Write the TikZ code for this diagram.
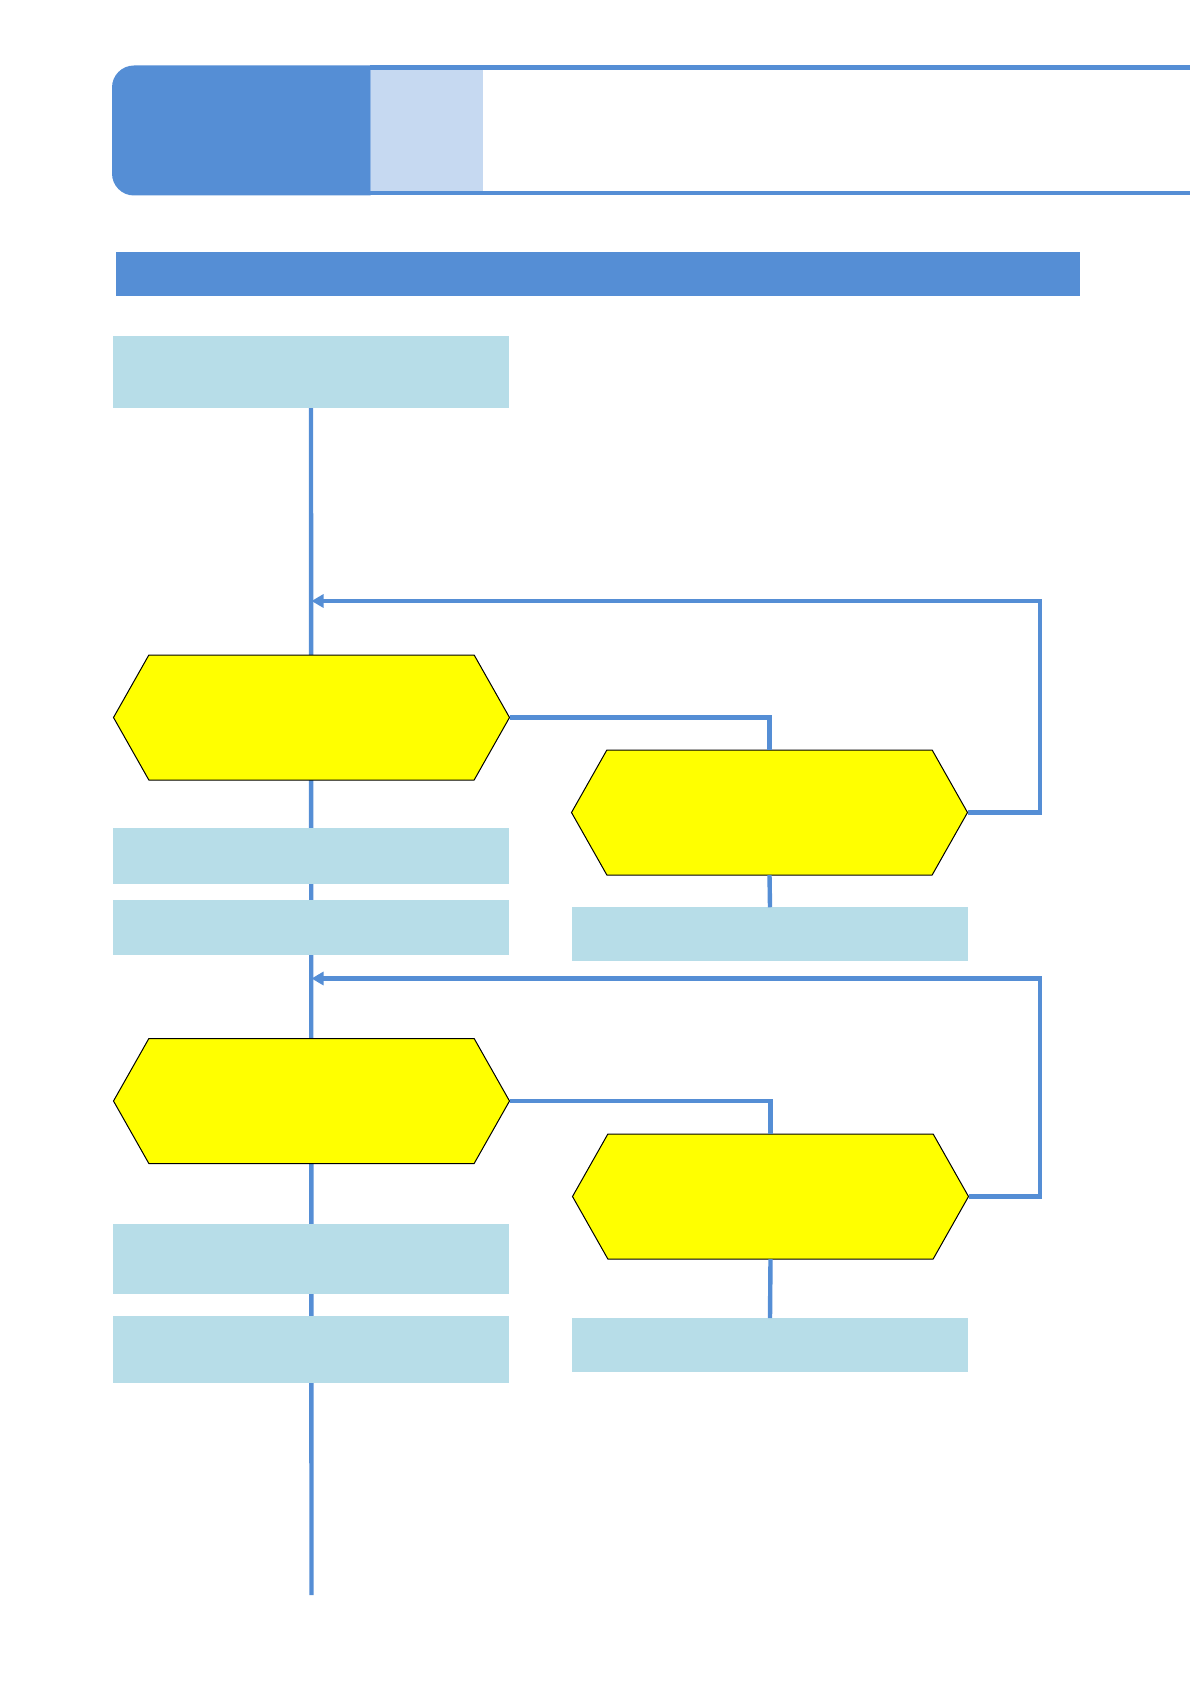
\documentclass[tikz,border=0pt]{standalone}
\usepackage{tikz}
\usetikzlibrary{shapes,arrows.meta,positioning,backgrounds,calc}
\definecolor{flblue}{RGB}{85,142,213}
\definecolor{fllight}{RGB}{198,217,241}
\definecolor{flcyan}{RGB}{183,221,232}
\definecolor{flyellow}{RGB}{255,255,0}

\begin{document}
\begin{tikzpicture}[
  x=0.5pt, y=-0.5pt,
  infobox/.style={fill=flcyan, minimum width=198pt, inner sep=0pt, outer sep=0pt},
  check/.style={shape=signal, signal to=west and east, signal pointer angle=121,
                fill=flyellow, draw=black, line width=0.5pt,
                minimum width=198pt, minimum height=62.5pt, inner sep=0pt, outer sep=0pt},
  flow/.style={flblue, line width=2.2pt},
  back/.style={flow, -{Triangle[length=6pt, width=6.5pt]}}
]
\useasboundingbox (0,0) rectangle (1190,1684);

% --- page header ---
\fill[flblue] (370.5,195.5) -- (370.5,65.5) [rounded corners=11pt] -- (112,65.5)
  -- (112,195.5) [sharp corners] -- cycle;
\node[fill=fllight, minimum width=56.25pt, minimum height=61pt, inner sep=0pt] (tag) at (427,130.5) {};
\draw[flow] (370,67.7) -- (1190,67.7);
\draw[flow] (370,193.3) -- (1190,193.3);

\node[fill=flblue, minimum width=482pt, minimum height=22.25pt, inner sep=0pt] (banner) at (598,274) {};

% --- left column ---
\node[infobox, minimum height=36pt] (b1) at (311,372) {};
\node[check] (h1) at (311.5,717.5) {};
\node[infobox, minimum height=28pt] (b2) at (311,856) {};
\node[infobox, minimum height=27.5pt] (b3) at (311,927.5) {};
\node[check] (h3) at (311.5,1101) {};
\node[infobox, minimum height=35pt] (b5) at (311,1259) {};
\node[infobox, minimum height=33.5pt] (b6) at (311,1349.5) {};
\coordinate (tail) at (311.5,1595);

% --- right column ---
\node[check] (h2) at (769.5,812.5) {};
\node[infobox, minimum height=26.75pt] (b4) at (770,934) {};
\node[check] (h4) at (770.5,1196.5) {};
\node[infobox, minimum height=27pt] (b7) at (770,1345) {};

% loop-back corners and joins on the main line
\coordinate (r1) at (1040,601);
\coordinate (j1) at (311.5,601);
\coordinate (r2) at (1040,978.5);
\coordinate (j2) at (311.5,978.5);

\begin{scope}[on background layer]
  \draw[flow] (b1.south) -- (tail);
\end{scope}

\draw[flow] (h1.east) -| (h2.north);
\draw[flow] (h2.south) -- (b4.north);
\draw[back] (h2.east) -| (r1) -- (j1);

\draw[flow] (h3.east) -| (h4.north);
\draw[flow] (h4.south) -- (b7.north);
\draw[back] (h4.east) -| (r2) -- (j2);

\end{tikzpicture}
\end{document}
